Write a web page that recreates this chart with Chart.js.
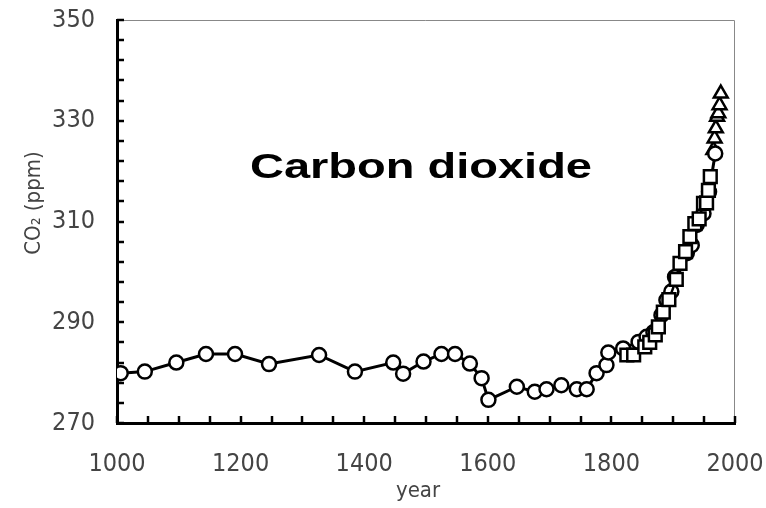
<!DOCTYPE html>
<html><head><meta charset="utf-8">
<script src="https://cdn.jsdelivr.net/npm/chart.js@4"></script>
<style>html,body{margin:0;padding:0;background:#fff}#wrap{width:766px;height:508px}</style>
</head><body><div id="wrap"><canvas id="c" width="766" height="508" style="width:766px;height:508px"></canvas></div>
<script>
// Ice core (circles)
const circleYears = [1006,1045,1096,1144,1191,1246,1327,1385,1447,1463,1496,1525,1547,1571,1590,1601,1647,1676,1695,1719,1744,1760,1776,1792,1795,1819,1844,1857,1868,1881,1889,1897,1903,1922,1930,1938,1949,1958,1968];
const circleValues = [279.9,280.2,282.0,283.7,283.7,281.7,283.5,280.2,282.0,279.8,282.2,283.7,283.7,281.8,278.9,274.6,277.2,276.2,276.7,277.5,276.7,276.7,279.9,281.5,284.0,284.8,286.1,287.1,288.0,291.4,294.4,296.1,299.0,303.7,305.3,309.3,311.6,315.9,323.5];
// Second ice core (squares)
const squareYears = [1825,1836,1854,1862,1871,1876,1884,1893,1905,1911,1920,1927,1935,1942,1949,1954,1957,1960];
const squareValues = [283.5,283.5,285.1,286.0,287.5,289.1,292.0,294.5,298.5,301.7,304.0,307.0,309.6,310.5,313.6,313.7,316.2,318.9];
// Atmospheric (triangles)
const triangleYears = [1965,1967,1969,1971,1973,1975,1977];
const triangleValues = [324.2,326.5,328.5,330.8,331.5,333.1,335.4];

const xTickLabels = [1000,1200,1400,1600,1800,2000];
const yTickLabels = [270,290,310,330,350];
const titleText = 'Carbon dioxide';
const xTitleText = 'year';
const yTitleText = 'CO\u2082 (ppm)';

const toPts = (xs, ys) => xs.map((x, i) => ({x: x, y: ys[i]}));
const tickFont = {family: '"DejaVu Sans Condensed",sans-serif', size: 25};

const decor = {
  id: 'decor',
  beforeDatasetsDraw(chart) {
    const {ctx, chartArea: a, scales: {x, y}} = chart;
    ctx.save();
    ctx.strokeStyle = '#888';
    ctx.lineWidth = 1;
    ctx.beginPath();
    ctx.moveTo(a.left, a.top + 0.5);
    ctx.lineTo(a.right - 0.5, a.top + 0.5);
    ctx.lineTo(a.right - 0.5, a.bottom);
    ctx.stroke();
    ctx.strokeStyle = '#000';
    ctx.lineWidth = 2.5;
    x.ticks.forEach(t => {
      const px = Math.round(x.getPixelForValue(t.value));
      ctx.beginPath(); ctx.moveTo(px, a.bottom); ctx.lineTo(px, a.bottom - 7); ctx.stroke();
    });
    y.ticks.forEach(t => {
      const py = Math.round(y.getPixelForValue(t.value));
      ctx.beginPath(); ctx.moveTo(a.left, py); ctx.lineTo(a.left + 7, py); ctx.stroke();
    });
    ctx.restore();
  },
  afterDraw(chart) {
    const {ctx} = chart;
    ctx.save();
    ctx.fillStyle = '#000';
    ctx.font = 'bold 35px "Liberation Sans", Arial, sans-serif';
    ctx.textBaseline = 'alphabetic';
    const w = ctx.measureText(titleText).width;
    ctx.translate(250, 178);
    ctx.scale(342 / w, 1);
    ctx.fillText(titleText, 0, 0);
    ctx.restore();

    ctx.save();
    ctx.fillStyle = '#444';
    ctx.font = '22px "DejaVu Sans Condensed",sans-serif';
    ctx.textAlign = 'center';
    ctx.textBaseline = 'alphabetic';
    ctx.fillText(xTitleText, 418, 497);
    ctx.translate(40, 203);
    ctx.rotate(-Math.PI / 2);
    ctx.fillText(yTitleText, 0, 0);
    ctx.restore();
  }
};

new Chart(document.getElementById('c'), {
  type: 'scatter',
  data: {
    datasets: [
      {data: toPts(squareYears, squareValues), pointStyle: 'rect', pointRadius: 9, pointBorderWidth: 2.5,
       pointBorderColor: '#000', pointBackgroundColor: '#fff', showLine: true, borderColor: '#000', borderWidth: 2.5},
      {data: toPts(circleYears, circleValues), pointStyle: 'circle', pointRadius: 7, pointBorderWidth: 2.5,
       pointBorderColor: '#000', pointBackgroundColor: '#fff', showLine: true, borderColor: '#000', borderWidth: 3},
      {data: toPts(triangleYears, triangleValues), pointStyle: 'triangle', pointRadius: 8, pointBorderWidth: 2.5,
       pointBorderColor: '#000', pointBackgroundColor: '#fff', showLine: true, borderColor: '#000', borderWidth: 2.5}
    ]
  },
  options: {
    responsive: false,
    animation: false,
    layout: {padding: {top: 20, right: 31, left: 0, bottom: 0}},
    plugins: {legend: {display: false}, tooltip: {enabled: false}},
    scales: {
      x: {
        type: 'linear', position: 'bottom', min: 1000, max: 2000,
        afterFit: s => { s.height = 85; s.paddingLeft = 0; s.paddingRight = 0; },
        grid: {drawOnChartArea: false, drawTicks: false},
        border: {display: true, color: '#000', width: 3},
        ticks: {stepSize: 50, autoSkip: false, maxRotation: 0, padding: 26, color: '#444', font: tickFont,
          callback: v => xTickLabels.includes(v) ? String(v) : ''}
      },
      y: {
        type: 'linear', position: 'left', min: 270, max: 350,
        afterFit: s => { s.width = 117; s.paddingTop = 0; s.paddingBottom = 0; },
        grid: {drawOnChartArea: false, drawTicks: false},
        border: {display: true, color: '#000', width: 3},
        ticks: {stepSize: 4, autoSkip: false, padding: 22, color: '#444', font: tickFont,
          callback: v => yTickLabels.includes(v) ? String(v) : ''}
      }
    }
  },
  plugins: [decor]
});
</script></body></html>
